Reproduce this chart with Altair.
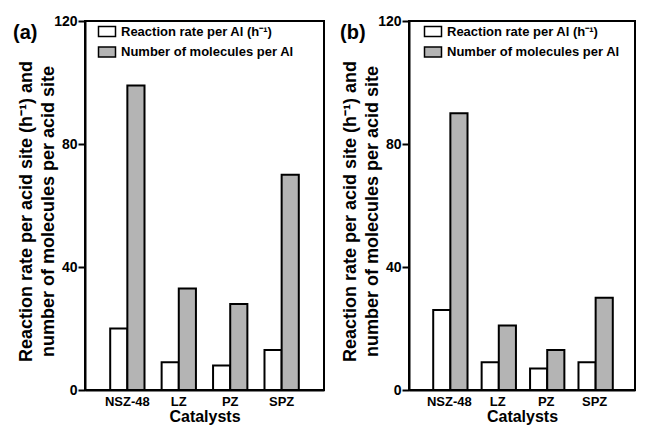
import altair as alt
import pandas as pd

catalysts = ["NSZ-48", "LZ", "PZ", "SPZ"]
series = ["Reaction rate per Al (h\u207b\u00b9)", "Number of molecules per Al"]
rate_a = [20, 9, 8, 13]
molecules_a = [99, 33, 28, 70]
rate_b = [26, 9, 7, 9]
molecules_b = [90, 21, 13, 30]
y_ticks = [0, 40, 80, 120]

FONT = "Liberation Sans"
RECT = "M-1.7,-1H1.7V1H-1.7Z"


def make_df(rate, mol):
    rows = []
    for c, r, m in zip(catalysts, rate, mol):
        rows.append({"Catalyst": c, "Series": series[0], "Value": r})
        rows.append({"Catalyst": c, "Series": series[1], "Value": m})
    return pd.DataFrame(rows)


def panel(df, label, width, pad_outer, legend_x, title_dx):
    return alt.Chart(df).mark_bar(stroke="black", strokeWidth=2).encode(
        x=alt.X("Catalyst:N", sort=catalysts,
                scale=alt.Scale(paddingInner=0.333, paddingOuter=pad_outer),
                axis=alt.Axis(title="Catalysts", labelAngle=0, ticks=False,
                              labelFontSize=13, labelPadding=5,
                              titleFontSize=16, titlePadding=0)),
        xOffset=alt.XOffset("Series:N", sort=series),
        y=alt.Y("Value:Q", scale=alt.Scale(domain=[0, 120]),
                axis=alt.Axis(values=y_ticks, grid=False, tickSize=7, tickWidth=2,
                              labelFontSize=14, labelPadding=1,
                              title=["Reaction rate per acid site (h\u207b\u00b9) and",
                                     "number of molecules per acid site"],
                              titleFontSize=18, titleLineHeight=22, titlePadding=-4,
                              titleY=190)),
        fill=alt.Fill("Series:N", sort=series,
                      scale=alt.Scale(domain=series, range=["#ffffff", "#b4b4b4"]),
                      legend=alt.Legend(title=None, orient="none", legendX=legend_x, legendY=4,
                                        symbolType=RECT, symbolSize=100,
                                        symbolStrokeColor="black", symbolStrokeWidth=1.5,
                                        labelFontSize=13, labelFont=FONT,
                                        labelFontWeight="bold", labelColor="black",
                                        labelLimit=400, rowPadding=3.5, labelOffset=7.5)),
    ).properties(
        width=width, height=369,
        title=alt.TitleParams(label, anchor="start", frame="group", dx=title_dx, dy=33,
                              fontSize=20, fontWeight="bold", font=FONT, color="black"),
    )


chart_a = panel(make_df(rate_a, molecules_a), "(a)", 239, 0.49, 15.5, -72)
chart_b = panel(make_df(rate_b, molecules_b), "(b)", 226, 0.5, 17.5, -69)

chart = alt.hconcat(chart_a, chart_b, spacing=14).resolve_scale(fill="independent").properties(
    padding={"left": 4, "top": 5, "right": 0, "bottom": 0},
    background="white",
).configure_view(
    stroke="black", strokeWidth=2
).configure_axis(
    domainColor="black", domainWidth=2, tickColor="black",
    labelColor="black", titleColor="black",
    labelFont=FONT, titleFont=FONT,
    labelFontWeight="bold", titleFontWeight="bold",
)

chart.save("out.html", embed_options={"renderer": "svg", "actions": False})
